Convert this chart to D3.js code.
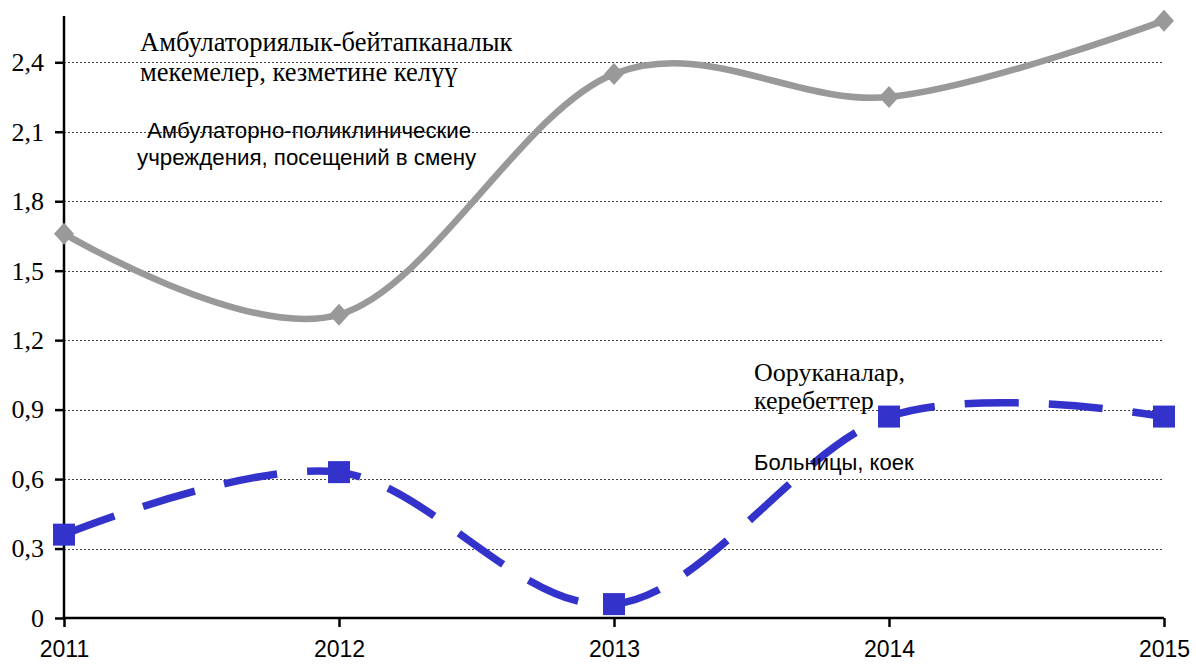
<!DOCTYPE html>
<html>
<head>
<meta charset="utf-8">
<script src="https://cdn.jsdelivr.net/npm/d3@7"></script>
<style>
  body { margin: 0; background: #fff; }
  .serif { font-family: "Liberation Serif", "Times New Roman", serif; }
  .sans { font-family: "Liberation Sans", Arial, sans-serif; }
</style>
</head>
<body>
<svg id="chart" width="1196" height="664"></svg>
<script>
// years and series values
var years = [2011, 2012, 2013, 2014, 2015];
var visits = [1.66, 1.31, 2.35, 2.25, 2.58];   // посещений в смену
var beds = [0.36, 0.63, 0.06, 0.87, 0.87];     // больницы, коек
var yTicks = [0, 0.3, 0.6, 0.9, 1.2, 1.5, 1.8, 2.1, 2.4];

var svg = d3.select("#chart");
var pLeft = 64, pRight = 1164, pTop = 16, pBottom = 618;

var x = d3.scaleLinear().domain([2011, 2015]).range([pLeft, pRight]);
var y = d3.scaleLinear().domain([0, 2.6]).range([pBottom, pTop]);

var fmt = function(d) { return d3.format(".1f")(d).replace(".", ","); };

// grid
svg.append("g")
  .selectAll("line")
  .data(yTicks.filter(function(d) { return d > 0; }))
  .enter().append("line")
  .attr("x1", pLeft).attr("x2", pRight)
  .attr("y1", function(d) { return Math.round(y(d)) + 0.5; })
  .attr("y2", function(d) { return Math.round(y(d)) + 0.5; })
  .attr("stroke", "#444")
  .attr("stroke-width", 1)
  .attr("stroke-dasharray", "2,2");

// y axis
var yAxis = svg.append("g")
  .attr("transform", "translate(" + pLeft + ",0)")
  .call(d3.axisLeft(y).tickValues(yTicks).tickFormat(function(d) { return d === 0 ? "0" : fmt(d); }).tickSize(9).tickPadding(11));
yAxis.select(".domain").attr("stroke", "#000").attr("stroke-width", 2.5)
  .attr("d", "M0," + pTop + "V" + pBottom);
yAxis.selectAll(".tick line").attr("stroke-width", 2.5);
yAxis.selectAll("text").attr("class", "serif").attr("font-size", 26).attr("fill", "#000");

// x axis
var xAxis = svg.append("g")
  .attr("transform", "translate(0," + pBottom + ")")
  .call(d3.axisBottom(x).tickValues(years).tickFormat(d3.format("d")).tickSize(9).tickPadding(14));
xAxis.select(".domain").attr("stroke", "#000").attr("stroke-width", 2.5)
  .attr("d", "M" + pLeft + ",0H" + pRight);
xAxis.selectAll(".tick line").attr("stroke-width", 2.5);
xAxis.selectAll("text").attr("class", "sans").attr("font-size", 23).attr("fill", "#000");

var line = d3.line()
  .x(function(d, i) { return x(years[i]); })
  .y(function(d) { return y(d); })
  .curve(d3.curveCatmullRom.alpha(0));

// gray series
svg.append("path")
  .datum(visits)
  .attr("d", line)
  .attr("fill", "none")
  .attr("stroke", "#999")
  .attr("stroke-width", 6.5);

svg.append("g")
  .selectAll("path")
  .data(visits)
  .enter().append("path")
  .attr("transform", function(d, i) { return "translate(" + x(years[i]) + "," + y(d) + ")"; })
  .attr("d", "M0,-11L10,0L0,11L-10,0Z")
  .attr("fill", "#999");

// blue series
svg.append("path")
  .datum(beds)
  .attr("d", line)
  .attr("fill", "none")
  .attr("stroke", "#3333cc")
  .attr("stroke-width", 7.5)
  .attr("stroke-dasharray", "54,30");

svg.append("g")
  .selectAll("rect")
  .data(beds)
  .enter().append("rect")
  .attr("x", function(d, i) { return x(years[i]) - 11; })
  .attr("y", function(d) { return y(d) - 11; })
  .attr("width", 22).attr("height", 22)
  .attr("fill", "#3333cc");

// labels
function label(lines, x0, y0, cls, size, gap) {
  var t = svg.append("text").attr("class", cls).attr("font-size", size).attr("fill", "#000");
  lines.forEach(function(s, i) {
    t.append("tspan").attr("x", x0[i]).attr("y", y0 + i * gap).text(s);
  });
}
label(["Амбулаториялык-бейтапканалык", "мекемелер, кезметине келүү"], [140, 140], 51, "serif", 26.5, 30);
label(["Амбулаторно-поликлинические", "учреждения, посещений в смену"], [147, 137], 138, "sans", 22.3, 27);
label(["Ооруканалар,", "керебеттер"], [754, 754], 381, "serif", 26, 28);
label(["Больницы, коек"], [754], 470, "sans", 22, 0);
</script>
</body>
</html>
